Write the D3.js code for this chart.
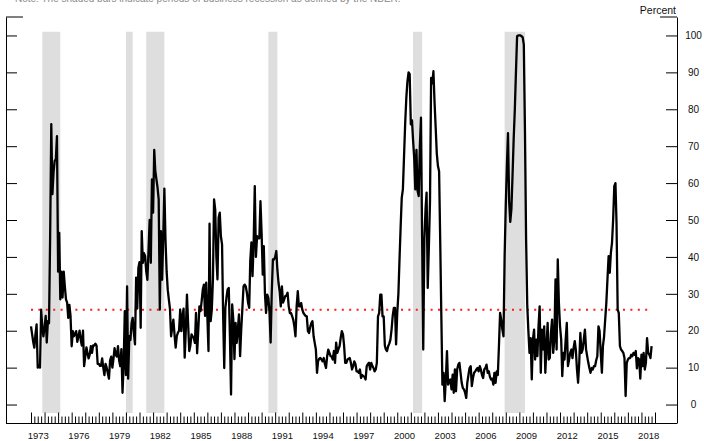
<!DOCTYPE html>
<html>
<head>
<meta charset="utf-8">
<script src="https://cdn.jsdelivr.net/npm/d3@7"></script>
<style>
  body { margin: 0; background: #fff; }
  svg { display: block; }
  text { font-family: "Liberation Sans", Arial, Helvetica, sans-serif; }
</style>
</head>
<body>
<svg id="chart" width="704" height="441"></svg>
<script>
// Monthly readings, percent, starting January 1973
const firstMonth = "1973-01-01";

const values1970s = [
  21.2, 19, 17, 15.4, 19, 21.7, 10, 10.5, 10, 25.7, 21, 18.5,          // 1973
  21, 24, 16.8, 22.6, 22, 46, 76, 57, 63, 66, 66.5, 72.7,              // 1974
  36, 46.5, 28.5, 36, 29, 36, 32, 28.5, 27.6, 23.5, 27, 24,            // 1975
  15.8, 19.9, 18.5, 19, 19.9, 17, 18.5, 20, 17.5, 16, 20, 10.4,        // 1976
  13, 15.5, 14, 12.5, 13.5, 15.8, 14, 16, 16, 16.5, 16, 11,            // 1977
  11, 10.5, 10.5, 12.5, 10, 8, 11, 10, 8.5, 7, 12, 13,                 // 1978
  10, 12.5, 15.3, 13.5, 13, 15.8, 12, 10.4, 15, 3.2, 11, 25.3          // 1979
];

const values1980s = [
  8, 32, 7, 18.5, 17.5, 22, 23.5, 19.5, 16.3, 34.4, 26, 37,            // 1980
  38.6, 20.8, 47, 38.4, 41, 40.2, 36, 33.8, 42, 50, 38.4, 61,          // 1981
  52, 69, 63.4, 61, 58.8, 55.6, 25.7, 47, 33.8, 45, 58.5, 44.7,        // 1982
  36, 31, 28.5, 25.9, 18.5, 21, 23, 19, 15.4, 18.5, 19.5, 20,          // 1983
  25.7, 19.9, 24, 26, 12.7, 20.3, 29.8, 22, 14.5, 16, 19, 18.5,        // 1984
  18, 16.7, 24.8, 13.9, 20, 26.6, 25.3, 28, 31.2, 32.5, 24, 33,        // 1985
  24, 14.5, 49, 22.6, 25.7, 34, 55.6, 52.8, 40, 33.9, 50.6, 52,        // 1986
  45.6, 43.4, 24.8, 9.9, 26.2, 29, 31.2, 31.6, 18.5, 2.7, 27.1, 23,    // 1987
  12.3, 22.1, 16.7, 20.3, 24.4, 13.1, 20.3, 26, 32, 32.5, 32, 30.3,    // 1988
  27.6, 26.2, 38.8, 43.9, 34.8, 43.9, 59.2, 40, 45.6, 45, 45, 55.1     // 1989
];

const values1990s = [
  46.5, 35.2, 42.9, 30, 24.8, 29.8, 28.9, 25.3, 16.8, 30.3, 39.3, 39.3, // 1990
  40, 41.6, 36.6, 33, 30.7, 26.6, 32, 27.6, 28.5, 29.4, 29.5, 30.3,      // 1991
  26.6, 24.8, 24.8, 24, 23, 21.2, 18.5, 26.6, 30.7, 26.6, 26.6, 27.5,    // 1992
  25.7, 24.8, 24.4, 24, 23.9, 19.9, 19.4, 21, 22.1, 22.6, 18.5, 16.7,    // 1993
  14.9, 8.6, 11.7, 12.4, 12.6, 12.2, 11.7, 12.6, 11, 9.9, 13.1, 14.9,    // 1994
  14, 13.1, 13, 12.2, 14.5, 11.3, 16.8, 14, 15, 15.8, 18.1, 19.9,        // 1995
  19, 15.8, 11.3, 11.3, 12.2, 12.4, 12.6, 11.3, 9.5, 10.4, 11.7, 11,     // 1996
  9, 9, 8.6, 9.5, 7.2, 8, 7.7, 7.5, 6.8, 10.4, 11, 11.3,                 // 1997
  9.5, 11.3, 10.5, 9.9, 9, 9.5, 11.3, 23.9, 24.8, 29.8, 29.8, 23.9,      // 1998
  23.9, 16, 14.9, 14.5, 15.8, 16.5, 17.6, 20.3, 24, 26.2, 26.2, 16.3     // 1999
];

const values2000s = [
  24.8, 30, 39, 48, 56, 58.3, 67, 76, 83, 87.5, 90, 89.5,              // 2000
  75.9, 77, 71.8, 66.9, 58.3, 69, 57.9, 56.5, 70, 77.7, 45, 14.9,      // 2001
  45, 53, 57.4, 31.6, 42.5, 55, 88.5, 87, 90.3, 82, 75, 68,            // 2002
  64.6, 63.2, 45.6, 24.8, 5.4, 8.6, 0.9, 6.8, 14.5, 5.4, 6.3, 6.8,     // 2003
  4.1, 8.1, 3.2, 9.5, 3.6, 9.5, 10.8, 11.3, 8.6, 5.9, 4.5, 4.1,        // 2004
  3.2, 1.8, 5.9, 8, 9.9, 10.4, 5, 7.2, 8.6, 9, 9.5, 9.9,               // 2005
  9, 10.4, 9.5, 8, 7.2, 9.5, 9.9, 10.8, 8.6, 9, 7.5, 6.8,              // 2006
  7, 5.4, 8.6, 5.9, 9, 8, 15.8, 24.8, 23, 20.3, 18.5, 40,              // 2007
  54, 65, 73.5, 55, 49.5, 53, 62, 72, 80, 90, 99.8, 100,               // 2008
  100, 100, 99.8, 99.5, 97.5, 74, 45, 27, 19.9, 14, 18, 6.8            // 2009
];

const values2010s = [
  17.6, 20.3, 12.2, 17.6, 13.1, 21.2, 26.6, 8.6, 20.3, 14.9, 21.2, 8.6,  // 2010
  15.8, 22.1, 12.2, 12.6, 19.4, 23, 14, 17.6, 33.9, 14.9, 39.3, 27.6,    // 2011
  21.2, 17.6, 7.7, 14, 12.2, 17.6, 22.1, 10.4, 12.2, 14, 14.9, 12.6,     // 2012
  15.4, 17.2, 14.9, 9.5, 5.9, 11.3, 19.4, 14, 14.9, 17.6, 20.3, 15,      // 2013
  13.1, 11.3, 9.9, 8.6, 9.9, 9.5, 10.4, 10.4, 12, 13.1, 21.2, 19.9,      // 2014
  14, 8.6, 15.8, 18.5, 23, 27.6, 33.9, 40.2, 35.7, 41.1, 43.9, 50.1,     // 2015
  59.2, 60, 49.2, 25.7, 24.8, 15.8, 14.9, 14.5, 14, 12.6, 2.3, 11.3,     // 2016
  12.2, 12.6, 12.6, 13.5, 13.1, 14, 13.5, 14.5, 9.8, 12.6, 12.2, 7,      // 2017
  13.5, 10.4, 14, 9.5, 11.3, 18, 14, 13.5, 12.6, 15.8                    // 2018
];

// NBER recessions (peak month, trough month)
const recessionStarts = ["1973-11-01", "1980-01-01", "1981-07-01", "1990-07-01", "2001-03-01", "2007-12-01"];
const recessionEnds   = ["1975-03-01", "1980-07-01", "1982-11-01", "1991-03-01", "2001-11-01", "2009-06-01"];

// Long-run average level (dotted reference line)
const averageLevel = 25.7;

const yTickValues = [0, 10, 20, 30, 40, 50, 60, 70, 80, 90, 100];
const yearLabels = [1973, 1976, 1979, 1982, 1985, 1988, 1991, 1994, 1997, 2000, 2003, 2006, 2009, 2012, 2015, 2018];

// ---- build series ----
const parse = d3.utcParse("%Y-%m-%d");
const allValues = [].concat(values1970s, values1980s, values1990s, values2000s, values2010s);
const start = parse(firstMonth);
const series = allValues.map((v, i) => ({ date: d3.utcMonth.offset(start, i), value: v }));

// ---- layout ----
const svg = d3.select("#chart");
const frameLeft = 6, frameRight = 677, frameTop = 17, frameBottom = 423.5;

const x = d3.scaleUtc()
  .domain([parse("1973-01-01"), parse("2019-01-01")])
  .range([31, 655]);
const y = d3.scaleLinear().domain([-5, 105]).range([423, 17]);

// recession shading
svg.append("g").selectAll("rect")
  .data(recessionStarts.map((s, i) => ({ s: parse(s), e: parse(recessionEnds[i]) })))
  .join("rect")
  .attr("x", d => x(d.s))
  .attr("width", d => x(d.e) - x(d.s))
  .attr("y", y(101))
  .attr("height", y(-2.3) - y(101))
  .attr("fill", "#dedede");

// note line running off the top edge
svg.append("text")
  .attr("x", 15).attr("y", 1.5)
  .attr("font-size", 10).attr("fill", "#8a8a8a")
  .text("Note: The shaded bars indicate periods of business recession as defined by the NBER.");

// average reference line
svg.append("line")
  .attr("x1", x.range()[0]).attr("x2", 652)
  .attr("y1", y(averageLevel)).attr("y2", y(averageLevel))
  .attr("stroke", "#ff1a1a").attr("stroke-width", 2)
  .attr("stroke-dasharray", "2,5.4");

// data line
svg.append("path")
  .datum(series)
  .attr("fill", "none")
  .attr("stroke", "#000")
  .attr("stroke-width", 2.3)
  .attr("stroke-linejoin", "round")
  .attr("d", d3.line().x(d => x(d.date)).y(d => y(d.value)));

// ---- axes ----
const axisStyle = g => {
  g.selectAll("line").attr("stroke", "#000").attr("stroke-width", 1);
  g.selectAll("path.domain").attr("stroke", "#000").attr("stroke-width", 1);
};

// left axis: ticks inside, no labels
svg.append("g")
  .attr("transform", `translate(${frameLeft},0)`)
  .call(d3.axisLeft(y).tickValues(yTickValues).tickSizeInner(-11).tickSizeOuter(0).tickFormat(""))
  .call(axisStyle);

// right axis: ticks inside, labels outside
const right = svg.append("g")
  .attr("transform", `translate(${frameRight},0)`)
  .call(d3.axisRight(y).tickValues(yTickValues).tickSizeInner(-11).tickSizeOuter(0).tickPadding(0))
  .call(axisStyle);
right.selectAll("text")
  .attr("x", 16.5)
  .attr("text-anchor", "middle")
  .attr("font-size", 10)
  .attr("fill", "#111")
  .attr("font-family", null);

// top caps of the two vertical axes
svg.append("line").attr("x1", frameLeft).attr("x2", 23).attr("y1", frameTop).attr("y2", frameTop)
  .attr("stroke", "#000");
svg.append("line").attr("x1", 660).attr("x2", frameRight).attr("y1", frameTop).attr("y2", frameTop)
  .attr("stroke", "#000");

// bottom frame line
svg.append("line")
  .attr("x1", frameLeft).attr("x2", frameRight)
  .attr("y1", frameBottom).attr("y2", frameBottom)
  .attr("stroke", "#000").attr("stroke-width", 1.2);

// quarterly ticks (short) and yearly ticks (long)
const quarters = d3.utcMonth.every(3).range(parse("1973-01-01"), parse("2019-01-02"));
const years = d3.utcYear.range(parse("1973-01-01"), parse("2019-01-02"));

svg.append("g")
  .attr("transform", `translate(0,${frameBottom})`)
  .call(d3.axisBottom(x).tickValues(quarters.filter(d => d.getUTCMonth() !== 0))
    .tickSizeInner(-7).tickSizeOuter(0).tickFormat(""))
  .call(g => g.select(".domain").remove())
  .call(axisStyle);

svg.append("g")
  .attr("transform", `translate(0,${frameBottom})`)
  .call(d3.axisBottom(x).tickValues(years)
    .tickSizeInner(-11).tickSizeOuter(0).tickFormat(""))
  .call(g => g.select(".domain").remove())
  .call(axisStyle);

// year labels centred on mid-year
svg.append("g")
  .attr("transform", `translate(0,${frameBottom})`)
  .call(d3.axisBottom(x)
    .tickValues(yearLabels.map(yr => parse(`${yr}-07-01`)))
    .tickSize(0).tickPadding(9)
    .tickFormat(d => d.getUTCFullYear()))
  .call(g => g.select(".domain").remove())
  .call(g => g.selectAll("text")
    .attr("font-size", 9.5).attr("fill", "#111").attr("font-family", null));

// unit label
svg.append("text")
  .attr("x", 676).attr("y", 14)
  .attr("text-anchor", "end")
  .attr("font-size", 10.5)
  .attr("fill", "#111")
  .text("Percent");
</script>
</body>
</html>
